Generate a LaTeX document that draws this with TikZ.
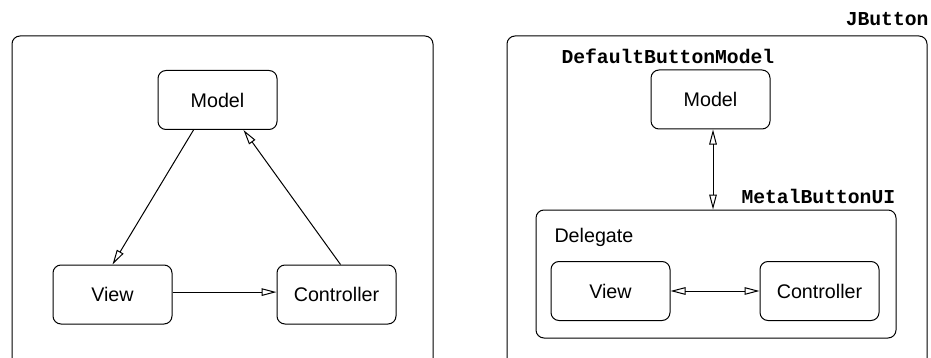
\documentclass[tikz,border=0pt]{standalone}
\usepackage{fontspec}
\setmainfont{Liberation Sans}
\setmonofont{Liberation Mono}
\usetikzlibrary{arrows.meta}
\tikzset{
  part/.style={draw, rounded corners=4pt, minimum width=59.5pt, minimum height=29.5pt, inner sep=0pt, font=\fontsize{9.85}{12}\selectfont},
  clsname/.style={font=\fontsize{9.85}{12}\selectfont\ttfamily\bfseries, inner sep=0pt},
  opentip/.style={-{Triangle[open,length=7.5pt,width=3.8pt]}},
  bothtips/.style={{Triangle[open,length=7.5pt,width=3.8pt]}-{Triangle[open,length=7.5pt,width=3.8pt]}},
}
\begin{document}
\begin{tikzpicture}[x=0.5pt,y=-0.5pt,line width=0.5pt]
\useasboundingbox (0,0) rectangle (931,358);
\clip (0,0) rectangle (931,358);
% classic MVC
\draw[rounded corners=4pt] (12,36) rectangle (433,390);
\node[part] (lmodel) at (217.5,100) {Model};
\node[part] (lview) at (112.5,294.5) {View};
\node[part] (lctrl) at (336.5,294.5) {Controller};
\draw[opentip] ([xshift=-12pt]lmodel.south) -- (lview.north);
\draw[opentip] ([xshift=2pt]lctrl.north) -- ([xshift=13pt]lmodel.south);
\draw[opentip] ([yshift=1.2pt]lview.east) -- ([yshift=1.2pt]lctrl.west);
% swing version
\node[clsname, anchor=east] (jbtn) at (929,19) {JButton};
\draw[rounded corners=4pt] (507,36) rectangle (927,390);
\node[clsname, anchor=west] (dbm) at (561,56) {DefaultButtonModel};
\node[part] (rmodel) at (710.5,99.5) {Model};
\node[clsname, anchor=west] (mbui) at (741,196) {MetalButtonUI};
\node[draw, rounded corners=4pt, minimum width=180pt, minimum height=64pt] (delegate) at (716,274) {};
\node[anchor=west, inner sep=0pt, font=\fontsize{9.85}{12}\selectfont] (dlabel) at (554,237) {Delegate};
\node[part] (rview) at (610.5,291) {View};
\node[part] (rctrl) at (819.5,291) {Controller};
\draw[bothtips] ([xshift=1.25pt]rmodel.south) -- ([xshift=1.25pt]rmodel.south |- delegate.north);
\draw[bothtips] (rview.east) -- (rctrl.west);
\end{tikzpicture}
\end{document}
